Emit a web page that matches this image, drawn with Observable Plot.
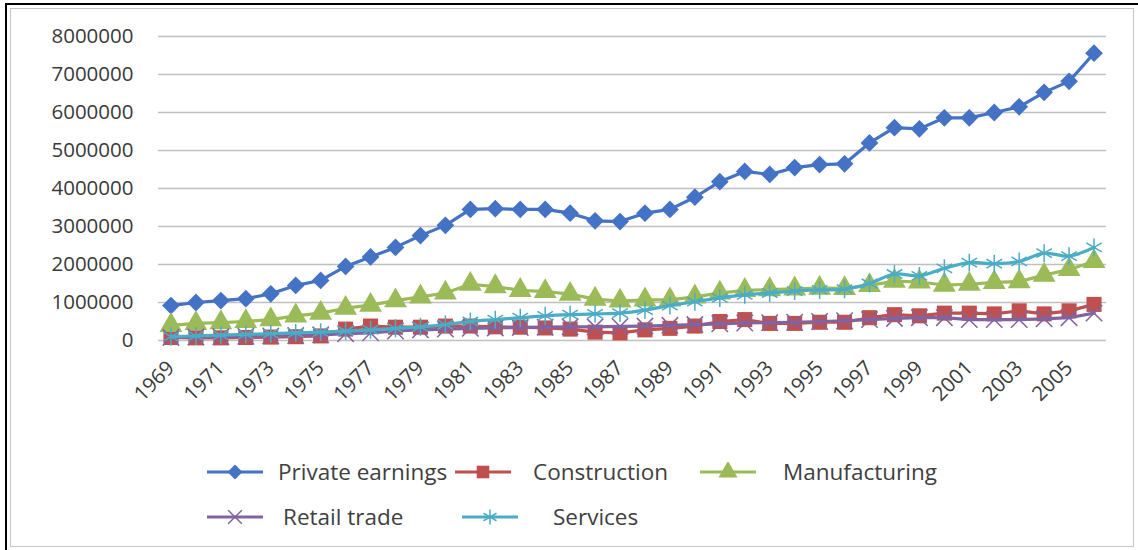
<!DOCTYPE html>
<html>
<head>
<meta charset="utf-8">
<script src="https://cdn.jsdelivr.net/npm/d3@7"></script>
<script src="https://cdn.jsdelivr.net/npm/@observablehq/plot@0.6"></script>
<style>
  html, body { margin: 0; padding: 0; background: #fff; }
  #frame { position: relative; width: 1138px; height: 550px; overflow: hidden; font-family: "Open Sans", sans-serif; }
  .outer { position: absolute; left: 5px; top: 3px; width: 1140px; height: 560px; border-left: 2px solid #000; border-top: 2px solid #000; z-index: 3; }
  .inner { position: absolute; left: 10px; top: 8px; width: 1122px; height: 537px; border: 1.5px solid #c4c4c4; z-index: 3; }
  #chart { position: absolute; left: 0; top: 0; }
  .sw { position: absolute; }
  .lt { position: absolute; font-size: 22.5px; color: #404040; white-space: nowrap; line-height: 30px; }
</style>
</head>
<body>
<div id="frame">
  <div id="chart"></div>
  <div id="legend"></div>
  <div class="outer"></div>
  <div class="inner"></div>
</div>
<script>
const years = [1969,1970,1971,1972,1973,1974,1975,1976,1977,1978,1979,1980,1981,1982,1983,1984,1985,1986,1987,1988,1989,1990,1991,1992,1993,1994,1995,1996,1997,1998,1999,2000,2001,2002,2003,2004,2005,2006];
const xTicks = [1969,1971,1973,1975,1977,1979,1981,1983,1985,1987,1989,1991,1993,1995,1997,1999,2001,2003,2005];
const yTicks = [0,1000000,2000000,3000000,4000000,5000000,6000000,7000000,8000000];

const privateEarnings = [920000,1000000,1050000,1100000,1230000,1450000,1580000,1950000,2200000,2450000,2760000,3030000,3450000,3470000,3450000,3450000,3350000,3150000,3130000,3350000,3450000,3770000,4180000,4450000,4370000,4550000,4630000,4650000,5200000,5600000,5570000,5860000,5860000,6000000,6150000,6530000,6820000,7560000];
const construction = [80000,70000,70000,80000,90000,100000,120000,300000,380000,350000,350000,380000,380000,360000,350000,330000,300000,220000,200000,280000,320000,380000,500000,550000,450000,450000,480000,480000,600000,680000,650000,720000,720000,700000,780000,700000,780000,950000];
const manufacturing = [400000,450000,470000,500000,550000,650000,720000,850000,930000,1050000,1150000,1250000,1480000,1420000,1320000,1290000,1220000,1090000,1040000,1070000,1070000,1150000,1250000,1320000,1340000,1360000,1380000,1370000,1450000,1560000,1540000,1460000,1480000,1530000,1550000,1720000,1870000,2080000];
const retailTrade = [80000,90000,100000,110000,120000,130000,150000,180000,200000,250000,280000,300000,320000,330000,340000,350000,360000,360000,370000,380000,400000,420000,440000,460000,470000,480000,500000,520000,550000,580000,600000,600000,550000,550000,550000,570000,600000,720000];
const services = [100000,120000,140000,160000,180000,200000,220000,250000,280000,320000,360000,420000,500000,550000,600000,650000,680000,700000,720000,800000,920000,1020000,1120000,1200000,1250000,1300000,1330000,1350000,1500000,1750000,1700000,1900000,2050000,2020000,2080000,2300000,2220000,2450000];

const seriesNames = ["Private earnings","Construction","Manufacturing","Retail trade","Services"];
const seriesValues = [privateEarnings, construction, manufacturing, retailTrade, services];
const seriesColors = ["#4472C4","#C0504D","#9BBB59","#8064A2","#4BACC6"];
const seriesSymbols = ["diamond2","square","triangle","times","asterisk"];
const seriesFilled = [true,true,true,false,false];
const seriesR = [8,8.5,8.5,7.5,8.5];
const seriesCurve = ["linear","linear","linear","linear","catmull-rom"];

const marks = [Plot.ruleY(yTicks, {stroke: "#c0c0c0", strokeWidth: 1.5})];
seriesNames.forEach((name, k) => {
  const data = years.map((yr, i) => ({year: yr, value: seriesValues[k][i], series: name}));
  marks.push(Plot.line(data, {x: "year", y: "value", stroke: seriesColors[k], strokeWidth: 3.2, curve: seriesCurve[k]}));
  marks.push(Plot.dot(data, seriesFilled[k]
    ? {x: "year", y: "value", symbol: () => seriesSymbols[k], r: seriesR[k], fill: seriesColors[k], stroke: "none"}
    : {x: "year", y: "value", symbol: () => seriesSymbols[k], r: seriesR[k], stroke: seriesColors[k], strokeWidth: 1.5, fill: "none"}));
});

const chart = Plot.plot({
  width: 1138,
  height: 420,
  marginLeft: 158,
  marginRight: 32,
  marginTop: 36,
  marginBottom: 80,
  style: {background: "transparent", fontFamily: "Open Sans, sans-serif", color: "#404040"},
  x: {type: "point", domain: years, padding: 0.5},
  y: {domain: [0, 8000000]},
  symbol: {type: "identity"},
  marks: [
    ...marks,
    Plot.axisY({ticks: yTicks, tickSize: 0, tickPadding: 25, tickFormat: d => String(d), fontSize: 20.5, label: null, fill: "#3a3a3a"}),
    Plot.axisX({ticks: xTicks, tickSize: 0, tickPadding: 24, tickRotate: -45, tickFormat: d => String(d), fontSize: 20.5, label: null, fill: "#3a3a3a"})
  ]
});
document.getElementById("chart").appendChild(chart);

// Legend (HTML): [swatch left, text left, row center]
const legendPos = [[207, 278, 472], [455, 533, 472], [700, 783, 472], [207, 283, 517], [462, 553, 517]];
const legend = document.getElementById("legend");
const symFns = {diamond2: d3.symbolDiamond2, square: d3.symbolSquare, triangle: d3.symbolTriangle, times: d3.symbolTimes, asterisk: d3.symbolAsterisk};
seriesNames.forEach((name, k) => {
  const sw = document.createElement("div");
  sw.className = "sw";
  sw.style.left = legendPos[k][0] + "px";
  sw.style.top = (legendPos[k][2] - 10) + "px";
  const sym = d3.symbol(symFns[seriesSymbols[k]], Math.PI * seriesR[k] * seriesR[k] * 0.7)();
  const attrs = seriesFilled[k] ? `fill="${seriesColors[k]}"` : `fill="none" stroke="${seriesColors[k]}" stroke-width="1.5"`;
  sw.innerHTML = `<svg width="56" height="20" viewBox="-28 -10 56 20"><line x1="-28" x2="28" y1="0" y2="0" stroke="${seriesColors[k]}" stroke-width="3.2"/><path d="${sym}" ${attrs}/></svg>`;
  legend.appendChild(sw);
  const t = document.createElement("div");
  t.className = "lt";
  t.style.left = legendPos[k][1] + "px";
  t.style.top = (legendPos[k][2] - 15) + "px";
  t.textContent = name;
  legend.appendChild(t);
});
</script>
</body>
</html>
